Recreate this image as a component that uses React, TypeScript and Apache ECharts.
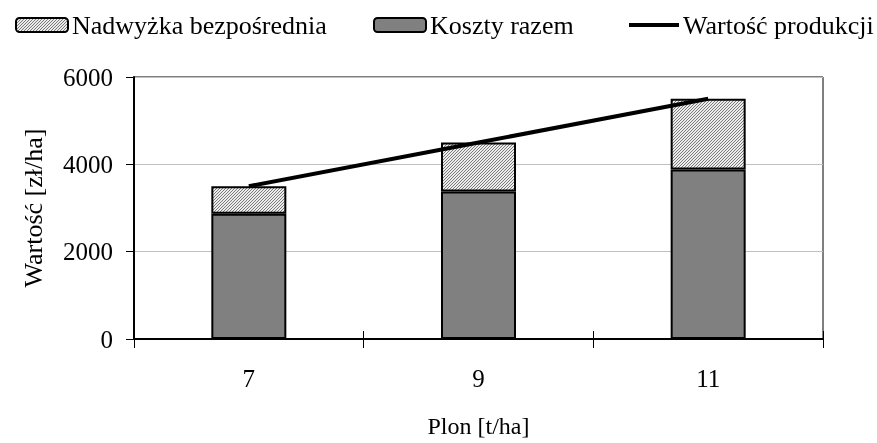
import React, { useEffect, useRef } from "react";
import * as echarts from "echarts";

const categories = ["7", "9", "11"];
const koszty = [2870, 3380, 3880];
const nadwyzka = [630, 1120, 1620];
const wartosc = [3500, 4500, 5500];
const yTicks = { min: 0, max: 6000, interval: 2000 };

const FONT = "Liberation Serif";

function makePattern(): HTMLCanvasElement {
  const n = 3;
  const c = document.createElement("canvas");
  c.width = n;
  c.height = n;
  const ctx = c.getContext("2d")!;
  ctx.fillStyle = "#ececec";
  ctx.fillRect(0, 0, n, n);
  ctx.fillStyle = "#7a7a7a";
  for (let i = 0; i < n; i++) ctx.fillRect(i, n - 1 - i, 1, 1);
  return c;
}

export default function App() {
  const ref = useRef<HTMLDivElement>(null);
  useEffect(() => {
    if (!ref.current) return;
    const chart = echarts.init(ref.current, undefined, { renderer: "svg", width: 877, height: 443 });
    const pattern = { image: makePattern(), repeat: "repeat" } as any;
    const legendText = { fontFamily: FONT, fontSize: 26, color: "#000", padding: [0, 0, 0, -1] };
    const legendBase = {
      top: 7,
      itemWidth: 52,
      itemHeight: 14,
      textStyle: legendText,
      selectedMode: false,
    };
    chart.setOption({
      animation: false,
      textStyle: { fontFamily: FONT },
      legend: [
        { ...legendBase, left: 10, data: ["Nadwyżka bezpośrednia"] },
        { ...legendBase, left: 368, data: ["Koszty razem"] },
        {
          ...legendBase,
          left: 624,
          itemWidth: 50,
          itemHeight: 4,
          data: [{ name: "Wartość produkcji", icon: "rect", itemStyle: { color: "#000", borderWidth: 0 } }],
        },
      ],
      grid: {
        left: 134,
        right: 54,
        top: 77,
        bottom: 99,
        show: true,
        borderColor: "#000",
        borderWidth: 1,
        backgroundColor: "transparent",
      },
      xAxis: [
        {
          type: "category",
          data: categories,
          position: "bottom",
          name: "Plon [t/ha]",
          nameLocation: "middle",
          nameGap: 75,
          nameTextStyle: { fontFamily: FONT, fontSize: 24, color: "#000" },
          axisLine: { lineStyle: { color: "#000", width: 2 } },
          axisTick: { show: true, inside: false, length: 9, lineStyle: { color: "#000", width: 1 } },
          axisLabel: { fontFamily: FONT, fontSize: 25, color: "#000", margin: 27 },
          splitLine: { show: false },
        },
        {
          type: "category",
          data: categories,
          position: "bottom",
          axisLine: { show: false },
          axisTick: { show: true, inside: true, length: 8, lineStyle: { color: "#000", width: 1 } },
          axisLabel: { show: false },
          splitLine: { show: false },
        },
      ],
      yAxis: {
        type: "value",
        min: yTicks.min,
        max: yTicks.max,
        interval: yTicks.interval,
        name: "Wartość [zł/ha]",
        nameLocation: "middle",
        nameGap: 88,
        nameTextStyle: { fontFamily: FONT, fontSize: 26, color: "#000" },
        axisLine: { show: true, lineStyle: { color: "#000", width: 2 } },
        axisTick: { show: true, length: 8, lineStyle: { color: "#000", width: 1 } },
        axisLabel: {
          fontFamily: FONT,
          fontSize: 25,
          color: "#000",
          margin: 21,
          formatter: (v: number) => String(v),
        },
        splitLine: { show: true, lineStyle: { color: "#c0c0c0", width: 1 } },
      },
      series: [
        {
          name: "Koszty razem",
          type: "bar",
          stack: "a",
          data: koszty,
          barWidth: 75,
          itemStyle: { color: "#808080", borderColor: "#000", borderWidth: 2 },
        },
        {
          name: "Nadwyżka bezpośrednia",
          type: "bar",
          stack: "a",
          data: nadwyzka,
          barWidth: 75,
          itemStyle: { color: pattern, borderColor: "#000", borderWidth: 2 },
        },
        {
          name: "Wartość produkcji",
          type: "line",
          data: wartosc,
          showSymbol: false,
          symbol: "none",
          z: 10,
          lineStyle: { color: "#000", width: 4 },
          itemStyle: { color: "#000" },
        },
      ],
    });
    return () => chart.dispose();
  }, []);
  return <div ref={ref} style={{ width: 877, height: 443, position: "fixed", left: 0, top: 0 }} />;
}
